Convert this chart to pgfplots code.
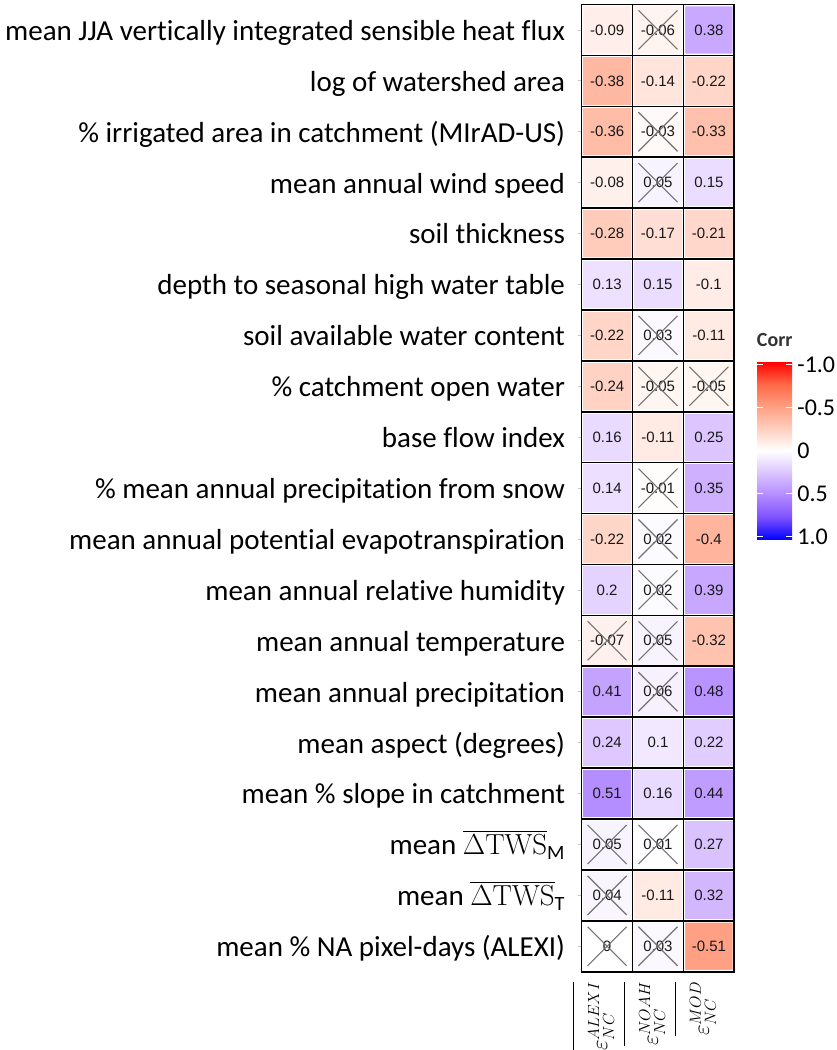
\documentclass[border=0pt]{standalone}
\usepackage{fix-cm}
\usepackage{amsmath}
\usepackage[no-math]{fontspec}
\setmainfont{Carlito}[Ligatures=NoCommon]
\newfontfamily\arial{Liberation Sans}
\usepackage{pgfplots}
\pgfplotsset{compat=1.18}
\usepackage{pgfplotstable}

% correlations: x = column (ALEXI, NOAH, MOD), y = row from top
\pgfplotstableread{
x y c
0 0 -0.09
1 0 -0.06
2 0 0.38
0 1 -0.38
1 1 -0.14
2 1 -0.22
0 2 -0.36
1 2 -0.03
2 2 -0.33
0 3 -0.08
1 3 0.05
2 3 0.15
0 4 -0.28
1 4 -0.17
2 4 -0.21
0 5 0.13
1 5 0.15
2 5 -0.1
0 6 -0.22
1 6 0.03
2 6 -0.11
0 7 -0.24
1 7 -0.05
2 7 -0.05
0 8 0.16
1 8 -0.11
2 8 0.25
0 9 0.14
1 9 -0.01
2 9 0.35
0 10 -0.22
1 10 0.02
2 10 -0.4
0 11 0.2
1 11 0.02
2 11 0.39
0 12 -0.07
1 12 0.05
2 12 -0.32
0 13 0.41
1 13 0.06
2 13 0.48
0 14 0.24
1 14 0.1
2 14 0.22
0 15 0.51
1 15 0.16
2 15 0.44
0 16 0.05
1 16 0.01
2 16 0.27
0 17 0.04
1 17 -0.11
2 17 0.32
0 18 0
1 18 0.03
2 18 -0.51
}\corrtable

% non-significant cells (crossed out)
\pgfplotstableread{
x y
1 0
1 2
1 3
1 6
1 7
2 7
1 9
1 10
1 11
0 12
1 12
1 13
0 16
1 16
0 17
0 18
1 18
}\insigtable

\begin{document}
\begin{tikzpicture}
\begin{axis}[
    at={(581.7pt,78.3pt)}, anchor=south west,
    scale only axis, width=152.6pt, height=967.2pt,
    xmin=-0.5, xmax=2.5, ymin=-0.5, ymax=18.5,
    y dir=reverse,
    colormap={corrmap}{rgb255=(255,0,0) rgb255=(255,104,70) rgb255=(255,158,129)
        rgb255=(255,207,191) rgb255=(255,255,255) rgb255=(220,196,255)
        rgb255=(179,139,255) rgb255=(126,81,255) rgb255=(0,0,255)},
    point meta min=-1.035, point meta max=1.035,
    xtick={0,1,2},
    xticklabels={
        {$\overline{\rule{0pt}{1.3em}\varepsilon^{ALEXI}_{NC}}$},
        {$\overline{\rule{0pt}{1.3em}\varepsilon^{NOAH}_{NC}}$},
        {$\overline{\rule{0pt}{1.3em}\varepsilon^{MOD}_{NC}}$}},
    ytick={0,...,18},
    yticklabels={
        mean JJA vertically integrated sensible heat flux,
        log of watershed area,
        \% irrigated area in catchment (MIrAD-US),
        mean annual wind speed,
        soil thickness,
        depth to seasonal high water table,
        soil available water content,
        \% catchment open water,
        base flow index,
        \% mean annual precipitation from snow,
        mean annual potential evapotranspiration,
        mean annual relative humidity,
        mean annual temperature,
        mean annual precipitation,
        mean aspect (degrees),
        mean \% slope in catchment,
        {mean $\overline{\Delta\mathrm{TWS}}_{\text{M}}$},
        {mean $\overline{\Delta\mathrm{TWS}}_{\text{T}}$},
        mean \% NA pixel-days (ALEXI)},
    minor xtick={-0.5,0.5,1.5,2.5},
    minor ytick={-0.5,0.5,...,18.5},
    grid=minor,
    minor grid style={black, line width=1.6pt},
    axis on top,
    axis line style={black, line width=1.6pt},
    tick align=outside, major tick length=4pt, minor tick length=0pt,
    xtick style={draw=none},
    ytick style={draw=gray!45, line width=0.8pt},
    ytick pos=left, xtick pos=bottom,
    yticklabel style={font=\fontsize{29}{32}\selectfont, inner sep=0pt,
        anchor=east, xshift=-12.5pt, yshift=-8pt, text height=0.68em, text depth=0.2em},
    xticklabel style={font=\fontsize{23}{25}\selectfont, inner sep=0pt,
        yshift=-9pt, rotate=90, anchor=base east, xshift=3pt},
    colorbar,
    colorbar shift/.style={},
    colorbar/width=35pt,
    colorbar style={
        at={(parent axis.south west)}, anchor=south west,
        xshift=175.5pt, yshift=432pt,
        scale only axis, width=35pt, height=178pt,
        y dir=reverse,
        ytick={-1,-0.5,0,0.5,1},
        yticklabels={-1.0,-0.5,0,0.5,1.0},
        yticklabel pos=right, ytick pos=both,
        tick align=inside, major tick length=6pt,
        ytick style={draw=white, line width=1.2pt},
        minor ytick={}, grid=none,
        axis line style={draw=none},
        yticklabel style={font=\fontsize{24}{26}\selectfont, inner sep=0pt,
            anchor=west, xshift=5pt},
        title={Corr},
        title style={font=\bfseries\fontsize{20}{22}\selectfont, text=black!80,
            inner sep=0pt, anchor=base, at={(0.5,1)}, yshift=9pt},
    },
]
\addplot[matrix plot*, mesh/cols=3, point meta=explicit,
    draw=white, line width=3.5pt,
    nodes near coords={\arial\fontsize{15}{16}\selectfont\pgfmathprintnumber[fixed, precision=2, assume math mode=true]{\pgfplotspointmeta}},
    nodes near coords align={center},
    every node near coord/.append style={text=black!90, inner sep=0pt}]
    table[x=x, y=y, meta=c] {\corrtable};
\addplot[only marks, mark=x, mark size=27.6pt, draw=black!55,
    mark options={line width=1.1pt}]
    table[x=x, y=y] {\insigtable};
\end{axis}
\pgfresetboundingbox
\path (0,0) rectangle (837pt,1050pt);
\end{tikzpicture}
\end{document}
